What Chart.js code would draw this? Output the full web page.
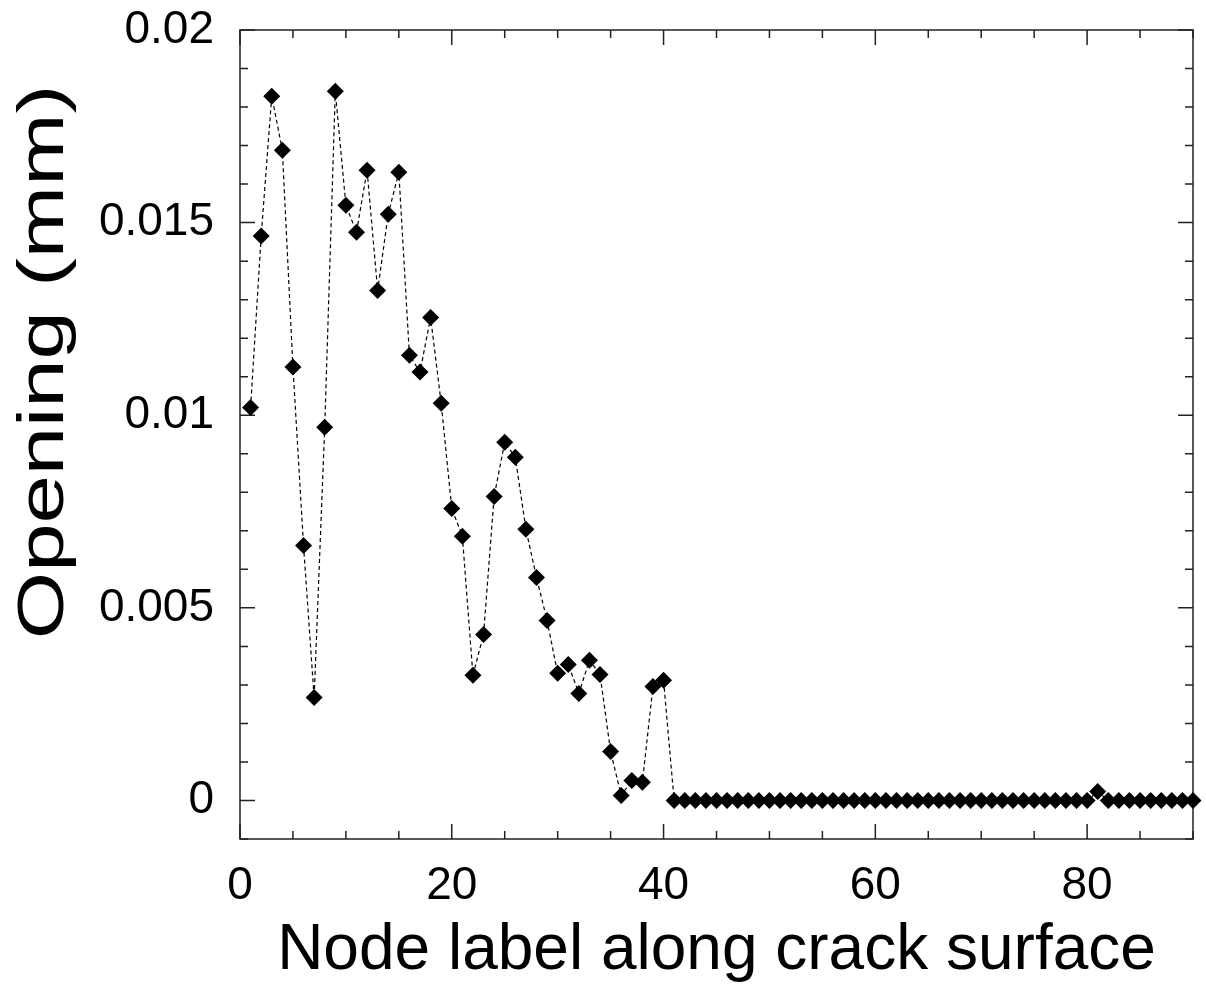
<!DOCTYPE html>
<html>
<head>
<meta charset="utf-8">
<script src="https://cdn.jsdelivr.net/npm/chart.js@4.4.1/dist/chart.umd.min.js"></script>
<style>
  body { margin: 0; background: #fff; }
  #wrap { width: 1206px; height: 990px; }
</style>
</head>
<body>
<div id="wrap"><canvas id="crackChart" width="1206" height="990"></canvas></div>
<script>
// node labels 1..90 along the crack surface
var nodes = [
  1, 2, 3, 4, 5, 6, 7, 8, 9, 10, 11, 12, 13, 14, 15, 16, 17, 18, 19, 20,
  21, 22, 23, 24, 25, 26, 27, 28, 29, 30, 31, 32, 33, 34, 35, 36, 37, 38, 39, 40,
  41, 42, 43, 44, 45, 46, 47, 48, 49, 50, 51, 52, 53, 54, 55, 56, 57, 58, 59, 60,
  61, 62, 63, 64, 65, 66, 67, 68, 69, 70, 71, 72, 73, 74, 75, 76, 77, 78, 79, 80,
  81, 82, 83, 84, 85, 86, 87, 88, 89, 90
];
// opening in mm
var opening = [
  0.0102, 0.01465, 0.01828, 0.01688, 0.01125, 0.00662, 0.00267, 0.00969, 0.01841, 0.01545,
  0.01475, 0.01636, 0.01324, 0.01522, 0.01631, 0.01156, 0.01112, 0.01254, 0.01031, 0.00758,
  0.00686, 0.00325, 0.00431, 0.00789, 0.0093, 0.00891, 0.00704, 0.00579, 0.00467, 0.0033,
  0.00353, 0.00278, 0.00364, 0.00327, 0.00127, 0.00013, 0.00052, 0.00047, 0.00296, 0.00312,
  0, 0, 0, 0, 0, 0, 0, 0, 0, 0,
  0, 0, 0, 0, 0, 0, 0, 0, 0, 0,
  0, 0, 0, 0, 0, 0, 0, 0, 0, 0,
  0, 0, 0, 0, 0, 0, 0, 0, 0, 0,
  0.00023, 0, 0, 0, 0, 0, 0, 0, 0, 0
];
var xTicks = [0, 20, 40, 60, 80];
var yTicks = [0, 0.005, 0.01, 0.015, 0.02];
var yTickLabels = ["0", "0.005", "0.01", "0.015", "0.02"];
var yTitle = "Opening (mm)";

var points = nodes.map(function (n, i) { return { x: n, y: opening[i] }; });

var FONT = "'Liberation Sans', Arial, Helvetica, sans-serif";

// box frame with inward ticks on all four sides
var frame = {
  id: "frame",
  beforeDatasetsDraw: function (chart) {
    var ctx = chart.ctx, a = chart.chartArea;
    var x = chart.scales.x, y = chart.scales.y;
    ctx.save();
    ctx.strokeStyle = "#222";
    ctx.lineWidth = 1.5;
    ctx.beginPath();
    for (var v = 0; v <= 90; v += 5) {
      var px = x.getPixelForValue(v);
      var len = v % 20 === 0 ? 15 : 8;
      ctx.moveTo(px, a.bottom); ctx.lineTo(px, a.bottom - len);
      ctx.moveTo(px, a.top); ctx.lineTo(px, a.top + len);
    }
    for (var i = -1; i <= 20; i++) {
      var py = y.getPixelForValue(i / 1000);
      var l = i % 5 === 0 ? 15 : 8;
      ctx.moveTo(a.left, py); ctx.lineTo(a.left + l, py);
      ctx.moveTo(a.right, py); ctx.lineTo(a.right - l, py);
    }
    ctx.stroke();
    ctx.strokeRect(a.left, a.top, a.right - a.left, a.bottom - a.top);
    ctx.restore();
  },
  // y title is stretched and sits above centre in the original, so it is placed by hand
  afterDraw: function (chart) {
    var ctx = chart.ctx;
    ctx.save();
    ctx.translate(45, 362);
    ctx.rotate(-Math.PI / 2);
    ctx.scale(1.24, 0.92);
    ctx.fillStyle = "#000";
    ctx.font = "70px " + FONT;
    ctx.textAlign = "center";
    ctx.textBaseline = "middle";
    ctx.fillText(yTitle, 0, 0);
    ctx.restore();
  }
};

var ctx = document.getElementById("crackChart").getContext("2d");
var myChart = new Chart(ctx, {
  type: "scatter",
  data: {
    datasets: [{
      data: points,
      showLine: true,
      borderColor: "#000",
      borderWidth: 1.2,
      borderDash: [4, 3],
      pointStyle: "rectRot",
      pointRadius: 8.5,
      pointHoverRadius: 8.5,
      pointBackgroundColor: "#000",
      pointBorderColor: "#000",
      pointBorderWidth: 0,
      clip: false
    }]
  },
  options: {
    responsive: false,
    animation: false,
    events: [],
    layout: { padding: { top: 30, right: 13, left: 0, bottom: 0 } },
    plugins: {
      legend: { display: false },
      tooltip: { enabled: false }
    },
    scales: {
      x: {
        type: "linear",
        min: 0,
        max: 90,
        afterFit: function (s) { s.height = 151; s.paddingLeft = 0; s.paddingRight = 0; },
        afterBuildTicks: function (s) { s.ticks = xTicks.map(function (v) { return { value: v }; }); },
        grid: { display: false },
        border: { display: false },
        ticks: {
          autoSkip: false,
          maxRotation: 0,
          padding: 12,
          color: "#000",
          font: { family: FONT, size: 46 },
          callback: function (v) { return String(v); }
        },
        title: {
          display: true,
          text: "Node label along crack surface",
          color: "#000",
          font: { family: FONT, size: 64 },
          padding: { top: 0, bottom: 0 }
        }
      },
      y: {
        type: "linear",
        min: -0.001,
        max: 0.02,
        afterFit: function (s) { s.width = 240; s.paddingTop = 0; s.paddingBottom = 0; },
        afterBuildTicks: function (s) { s.ticks = yTicks.map(function (v) { return { value: v }; }); },
        grid: { display: false },
        border: { display: false },
        ticks: {
          padding: 18,
          color: "#000",
          font: { family: FONT, size: 46 },
          callback: function (v) {
            var k = yTicks.indexOf(v);
            return k >= 0 ? yTickLabels[k] : "";
          }
        }
      }
    }
  },
  plugins: [frame]
});
</script>
</body>
</html>
